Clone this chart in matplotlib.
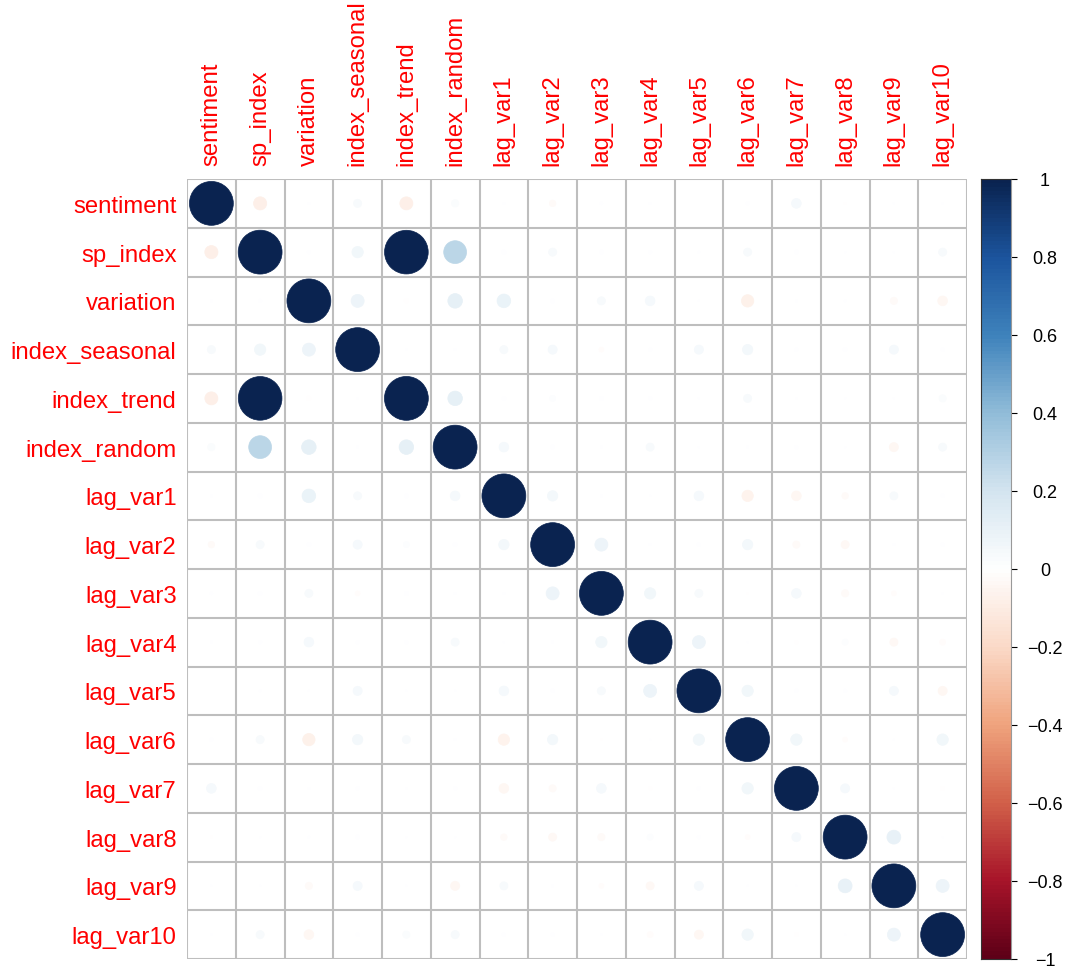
import numpy as np
import matplotlib
matplotlib.use("Agg")
import matplotlib.pyplot as plt
from matplotlib.colors import LinearSegmentedColormap
from matplotlib.patches import Circle

plt.rcParams['font.family'] = ['Liberation Sans', 'DejaVu Sans']

# variable names
names = ["sentiment", "sp_index", "variation", "index_seasonal", "index_trend",
         "index_random", "lag_var1", "lag_var2", "lag_var3", "lag_var4",
         "lag_var5", "lag_var6", "lag_var7", "lag_var8", "lag_var9", "lag_var10"]

# lower triangle of the correlation matrix (row i, columns 0..i-1)
lower = [
    [],
    [-0.09],
    [0.002, 0.0055],
    [0.034, 0.067, 0.088],
    [-0.088, 0.99, -0.01, 0.002],
    [0.027, 0.27, 0.11, 0.002, 0.11],
    [0.002, 0.008, 0.097, 0.034, 0.008, 0.049],
    [-0.022, 0.034, 0.008, 0.043, 0.018, 0.008, 0.056],
    [0.0035, 0.008, 0.034, -0.012, 0.008, 0.002, 0.002, 0.088],
    [0.002, 0.0055, 0.049, 0.0055, 0.0055, 0.034, 0.001, 0.002, 0.067],
    [0.0, 0.002, 0.001, 0.043, 0.001, 0.001, 0.049, 0.0055, 0.034, 0.088],
    [0.0055, 0.034, -0.079, 0.056, 0.034, 0.002, -0.067, 0.056, -0.001, 0.001, 0.067],
    [0.049, 0.008, 0.002, 0.0055, 0.002, 0.0055, -0.049, -0.027, 0.049, -0.0055, 0.0055, 0.067],
    [-0.002, 0.001, 0.002, 0.008, 0.001, 0.001, -0.022, -0.034, -0.027, 0.018, 0.0055, -0.012, 0.043],
    [0.001, 0.001, -0.027, 0.043, 0.001, -0.043, 0.034, 0.002, -0.012, -0.034, 0.043, 0.001, 0.001, 0.1],
    [0.001, 0.034, -0.049, 0.0055, 0.027, 0.034, 0.0055, 0.0055, 0.002, -0.018, -0.043, 0.067, -0.008, 0.001, 0.088],
]

cbar_ticks = [1, 0.8, 0.6, 0.4, 0.2, 0, -0.2, -0.4, -0.6, -0.8, -1]
cbar_labels = ["1", "0.8", "0.6", "0.4", "0.2", "0", "\u22120.2", "\u22120.4",
               "\u22120.6", "\u22120.8", "\u22121"]

n = len(names)
corr = np.eye(n)
for i, row in enumerate(lower):
    for j, v in enumerate(row):
        corr[i, j] = v
        corr[j, i] = v

# RdBu-style palette, as it shows in the screenshot
pal = ["#5E0018", "#A8152A", "#D2614A", "#F0A47E", "#FBDAC8", "#FFFFFF",
       "#D4E5F0", "#92BDD9", "#3F83BC", "#1C559E", "#0A2350"]
cmap = LinearSegmentedColormap.from_list("corr", pal, N=200)

W, H = 1067, 970
fig = plt.figure(figsize=(W / 100, H / 100), dpi=100)
ax = fig.add_axes([187 / W, 10 / H, 780 / W, 780 / H])
ax.set_xlim(0, n)
ax.set_ylim(n, 0)

for k in range(n + 1):
    ax.axhline(k, color="#BEBEBE", lw=1.5, zorder=1)
    ax.axvline(k, color="#BEBEBE", lw=1.5, zorder=1)

for i in range(n):
    for j in range(n):
        v = corr[i, j]
        r = 0.45 * np.sqrt(abs(v))
        if r <= 0:
            continue
        c = cmap((v + 1) / 2)
        ax.add_patch(Circle((j + 0.5, i + 0.5), r, facecolor=c, edgecolor=c,
                            lw=0.5, zorder=2))

for s in ax.spines.values():
    s.set_visible(False)

ax.set_yticks(np.arange(n) + 0.5)
ax.set_yticklabels(names, color="red", fontsize=17.2)
ax.xaxis.tick_top()
ax.set_xticks(np.arange(n) + 0.5)
ax.set_xticklabels(names, color="red", fontsize=17.2, rotation=90)
ax.tick_params(axis="y", length=0, pad=7.5)
ax.tick_params(axis="x", length=0, pad=10)

# colour bar
cax = fig.add_axes([981 / W, 10 / H, 30 / W, 780 / H])
grad = np.linspace(1, -1, 200).reshape(-1, 1)
cax.imshow(grad, cmap=cmap, vmin=-1, vmax=1, aspect="auto",
           extent=[0, 1, -1, 1], interpolation="nearest")
cax.set_xlim(0, 1)
cax.set_ylim(-1, 1)
cax.set_xticks([])
cax.yaxis.tick_right()
cax.set_yticks(cbar_ticks)
cax.set_yticklabels(cbar_labels, fontsize=13, ha="center")
cax.tick_params(axis="y", length=4.5, width=0.8, pad=20)
for s in cax.spines.values():
    s.set_color("#333333")
    s.set_linewidth(0.8)
cax.spines["right"].set_color("#999999")

fig.savefig("out.png", dpi=100)
